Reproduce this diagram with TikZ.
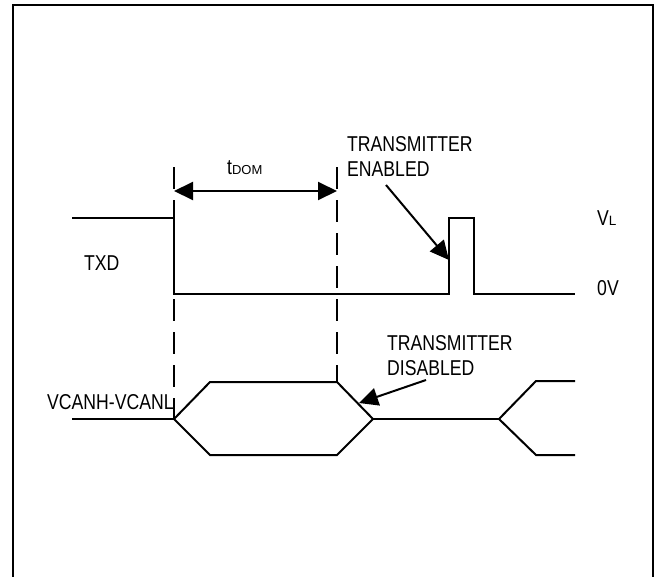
\documentclass[tikz,border=0pt]{standalone}
\usepackage{fontspec}
\setmainfont{Liberation Sans}[FakeStretch=0.82]
\newfontfamily\subfont{Liberation Sans}
\usetikzlibrary{arrows.meta}
\begin{document}
\begin{tikzpicture}[x=1pt,y=-1pt,
  wave/.style={line width=2pt, line join=miter},
  guide/.style={line width=2pt, dash pattern=on 22pt off 11pt},
  frame/.style={line width=2.5pt},
  lbl/.style={inner sep=0pt, anchor=base west, font=\fontsize{21.5}{25}\selectfont, align=left},
  sub/.style={font=\subfont\fontsize{13}{13}\selectfont},
  bigtip/.style={line width=2pt, -{Triangle[length=19pt,width=18pt]}},
  dbltip/.style={line width=2pt, {Triangle[length=19pt,width=18pt]}-{Triangle[length=19pt,width=18pt]}},
]
\useasboundingbox (0,0) rectangle (656,576);
% frame (open at the bottom)
\draw[frame] (13,580) -- (13,5) -- (653,5) -- (653,580);

% guide lines
\draw[guide] (174,167) -- (174,419);
\draw[guide] (337,167) -- (337,382);

% TXD waveform
\draw[wave] (72,218) -- (174,218) -- (174,294) -- (449,294) -- (449,218)
  -- (474,218) -- (474,294) -- (575,294);

% bus waveform
\draw[wave] (72,419) -- (174,419);
\draw[wave] (174,419) -- (210,382) -- (337,382) -- (373,419) -- (337,455) -- (210,455) -- cycle;
\draw[wave] (373,419) -- (499,419);
\draw[wave] (575,381) -- (536,381) -- (499,419) -- (536,455) -- (575,455);

% tDOM arrow
\coordinate (dl) at (174,191);
\coordinate (dr) at (337,191);
\draw[dbltip] (dl) -- (dr);
\node[lbl] (tdom) at (227,174)
  {t{\subfont\fontsize{13}{13}\selectfont DOM}};

% labels
\node[lbl] (txd) at (84,270) {TXD};
\node[lbl] (vl) at (597,225)
  {V{\subfont\fontsize{13.5}{13.5}\selectfont L}};
\node[lbl] (zv) at (597,295) {0V};
\node[lbl] (vcan) at (47,409) {VCANH-VCANL};
\node[lbl] (en) at (347,176) {TRANSMITTER\\ENABLED};
\node[lbl] (dis) at (387,375) {TRANSMITTER\\DISABLED};

% annotation arrows
\coordinate (enA) at (386,185);
\coordinate (enB) at (449,260);
\draw[bigtip] (enA) -- (enB);
\coordinate (disA) at (426,380);
\coordinate (disB) at (359,403);
\draw[bigtip] (disA) -- (disB);
\end{tikzpicture}
\end{document}
